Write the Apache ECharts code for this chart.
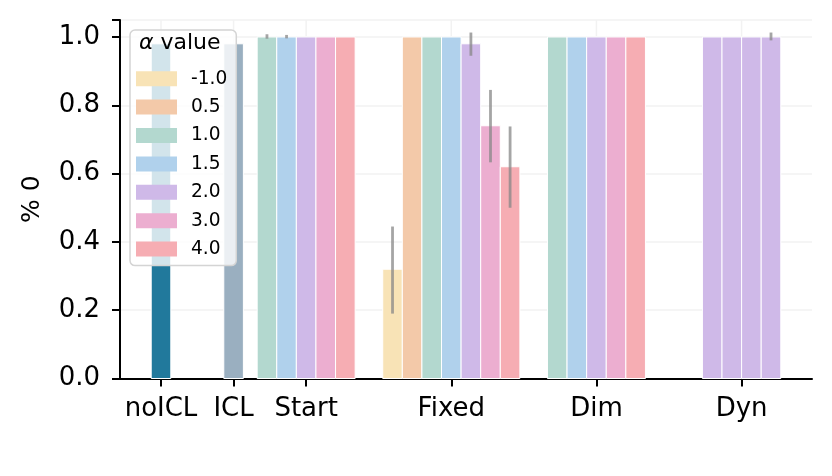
<!DOCTYPE html>
<html>
<head>
<meta charset="utf-8">
<script src="https://cdn.jsdelivr.net/npm/echarts@6/dist/echarts.min.js"></script>
<style>
html,body{margin:0;padding:0;background:#fff;}
#chart{width:832px;height:476px;}
</style>
</head>
<body>
<div id="chart"></div>
<script>
// ---------- data ----------
const categories = ['noICL', 'ICL', 'Start', 'Fixed', 'Dim', 'Dyn'];
const alphaLabels = ['-1.0', '0.5', '1.0', '1.5', '2.0', '3.0', '4.0'];
const yTicks = [0, 0.2, 0.4, 0.6, 0.8, 1.0];

const baselineValues = [0.98, 0.98];           // noICL, ICL

const startAlphas = ['1.0', '1.5', '2.0', '3.0', '4.0'];
const startValues = [1.0, 1.0, 1.0, 1.0, 1.0];
const startLow    = [0.995, 0.996, 1.0, 1.0, 1.0];
const startHigh   = [1.008, 1.006, 1.0, 1.0, 1.0];

const fixedAlphas = ['-1.0', '0.5', '1.0', '1.5', '2.0', '3.0', '4.0'];
const fixedValues = [0.32, 1.0, 1.0, 1.0, 0.98, 0.74, 0.62];
const fixedLow    = [0.19, 1.0, 1.0, 1.0, 0.945, 0.633, 0.50];
const fixedHigh   = [0.445, 1.0, 1.0, 1.0, 1.013, 0.845, 0.738];

const dimAlphas = ['1.0', '1.5', '2.0', '3.0', '4.0'];
const dimValues = [1.0, 1.0, 1.0, 1.0, 1.0];
const dimLow    = [1.0, 1.0, 1.0, 1.0, 1.0];
const dimHigh   = [1.0, 1.0, 1.0, 1.0, 1.0];

const dynAlphas = ['2.0', '2.0', '2.0', '2.0'];
const dynValues = [1.0, 1.0, 1.0, 1.0];
const dynLow    = [1.0, 1.0, 1.0, 0.99];
const dynHigh   = [1.0, 1.0, 1.0, 1.013];

// ---------- layout / style ----------
const catPos = [0, 1, 2, 4, 6, 8];           // axis positions of categories
const barStep = 0.27;                         // bar width in axis units
const alphaColors = {
  '-1.0': '#f8e3b6', '0.5': '#f3c9a9', '1.0': '#b3d8cf', '1.5': '#b0d1ec',
  '2.0': '#cfb9e8', '3.0': '#ecaed0', '4.0': '#f6adb3'
};
const baselineColors = ['#21799c', '#9aafc0'];
const FONT = 'DejaVu Sans';

const groups = [
  {cat: 'Start', alphas: startAlphas, v: startValues, lo: startLow, hi: startHigh},
  {cat: 'Fixed', alphas: fixedAlphas, v: fixedValues, lo: fixedLow, hi: fixedHigh},
  {cat: 'Dim',   alphas: dimAlphas,   v: dimValues,   lo: dimLow,   hi: dimHigh},
  {cat: 'Dyn',   alphas: dynAlphas,   v: dynValues,   lo: dynLow,   hi: dynHigh}
];
const perAlpha = {};
alphaLabels.forEach(a => perAlpha[a] = []);
groups.forEach(g => {
  const center = catPos[categories.indexOf(g.cat)];
  const n = g.alphas.length;
  g.alphas.forEach((a, k) => {
    const x = center + (k - (n - 1) / 2) * barStep;
    perAlpha[a].push([x, g.v[k], g.lo[k], g.hi[k]]);
  });
});

function renderBar(params, api) {
  const x = api.value(0), y = api.value(1), lo = api.value(2), hi = api.value(3);
  const p0 = api.coord([x, 0]);
  const p1 = api.coord([x, y]);
  const w = api.size([barStep, 0])[0];
  const children = [{
    type: 'rect',
    shape: {x: p1[0] - w / 2, y: p1[1], width: w, height: p0[1] - p1[1]},
    style: {fill: api.visual('color'), stroke: '#ffffff', lineWidth: 1}
  }];
  if (!isNaN(lo) && !isNaN(hi) && hi - lo > 0.001) {
    const a = api.coord([x, lo]), b = api.coord([x, hi]);
    children.push({
      type: 'line',
      shape: {x1: a[0], y1: a[1], x2: b[0], y2: b[1]},
      style: {stroke: 'rgba(135,135,135,0.75)', lineWidth: 2.8}
    });
  }
  return {type: 'group', children};
}

const series = [];
series.push({
  type: 'custom', name: '_vgrid', silent: true, z: 0,
  data: catPos.map(p => [p, 1.05]),
  renderItem(params, api) {
    const a = api.coord([api.value(0), 0]);
    const b = api.coord([api.value(0), api.value(1)]);
    return {type: 'line', shape: {x1: a[0], y1: a[1], x2: b[0], y2: b[1]},
      style: {stroke: '#f2f2f2', lineWidth: 1.5}};
  }
});
series.push({
  type: 'custom', name: 'baseline', z: 2,
  data: baselineValues.map((v, i) => ({value: [catPos[i], v, NaN, NaN],
    itemStyle: {color: baselineColors[i]}})),
  renderItem: renderBar
});
alphaLabels.forEach(a => {
  series.push({
    type: 'custom', name: a, z: 2,
    itemStyle: {color: alphaColors[a]},
    data: perAlpha[a],
    renderItem: renderBar
  });
});

const chart = echarts.init(document.getElementById('chart'), null, {renderer: 'canvas'});
chart.setOption({
  animation: false,
  backgroundColor: '#ffffff',
  grid: {left: 120, right: 20, top: 19.9, bottom: 97.5},
  xAxis: {
    type: 'value', min: -0.565, max: 8.97,
    axisLine: {show: true, onZero: false, lineStyle: {color: '#000', width: 2}},
    axisTick: {show: true, customValues: catPos, length: 8, lineStyle: {color: '#000', width: 2}},
    axisLabel: {
      customValues: catPos, margin: 18, color: '#000', fontSize: 26, fontFamily: FONT,
      formatter: v => categories[catPos.indexOf(v)] || ''
    },
    splitLine: {show: false}
  },
  yAxis: {
    type: 'value', min: 0, max: 1.05, interval: 0.2,
    name: '% 0', nameLocation: 'middle', nameRotate: 90, nameGap: 75,
    nameTextStyle: {color: '#000', fontSize: 25, fontFamily: FONT},
    axisLine: {show: true, onZero: false, lineStyle: {color: '#000', width: 2}},
    axisTick: {show: true, length: 8, lineStyle: {color: '#000', width: 2}},
    axisLabel: {
      margin: 20, color: '#000', fontSize: 26, fontFamily: FONT,
      formatter: v => (yTicks.some(t => Math.abs(t - v) < 1e-6) ? v.toFixed(1) : '')
    },
    splitLine: {show: true, lineStyle: {color: '#f2f2f2', width: 1.5}}
  },
  legend: {
    data: alphaLabels,
    orient: 'vertical', left: 130, top: 30,
    padding: [39.2, 9, 7, 6],
    itemWidth: 41, itemHeight: 15, itemGap: 9.4,
    icon: 'rect',
    backgroundColor: 'rgba(255,255,255,0.8)',
    borderColor: '#d4d4d4', borderWidth: 1.5, borderRadius: 5,
    textStyle: {color: '#000', fontSize: 18.6, fontFamily: FONT, padding: [0, 0, 0, 9]},
    selectedMode: false
  },
  graphic: [{
    type: 'text', z: 100, left: 139, top: 32,
    style: {
      text: '{a|α}\u00a0value',
      fill: '#000', font: '22px "DejaVu Sans"',
      rich: {a: {fontStyle: 'italic', fontSize: 22, fontFamily: FONT}}
    }
  }],
  series: series
});
</script>
</body>
</html>
